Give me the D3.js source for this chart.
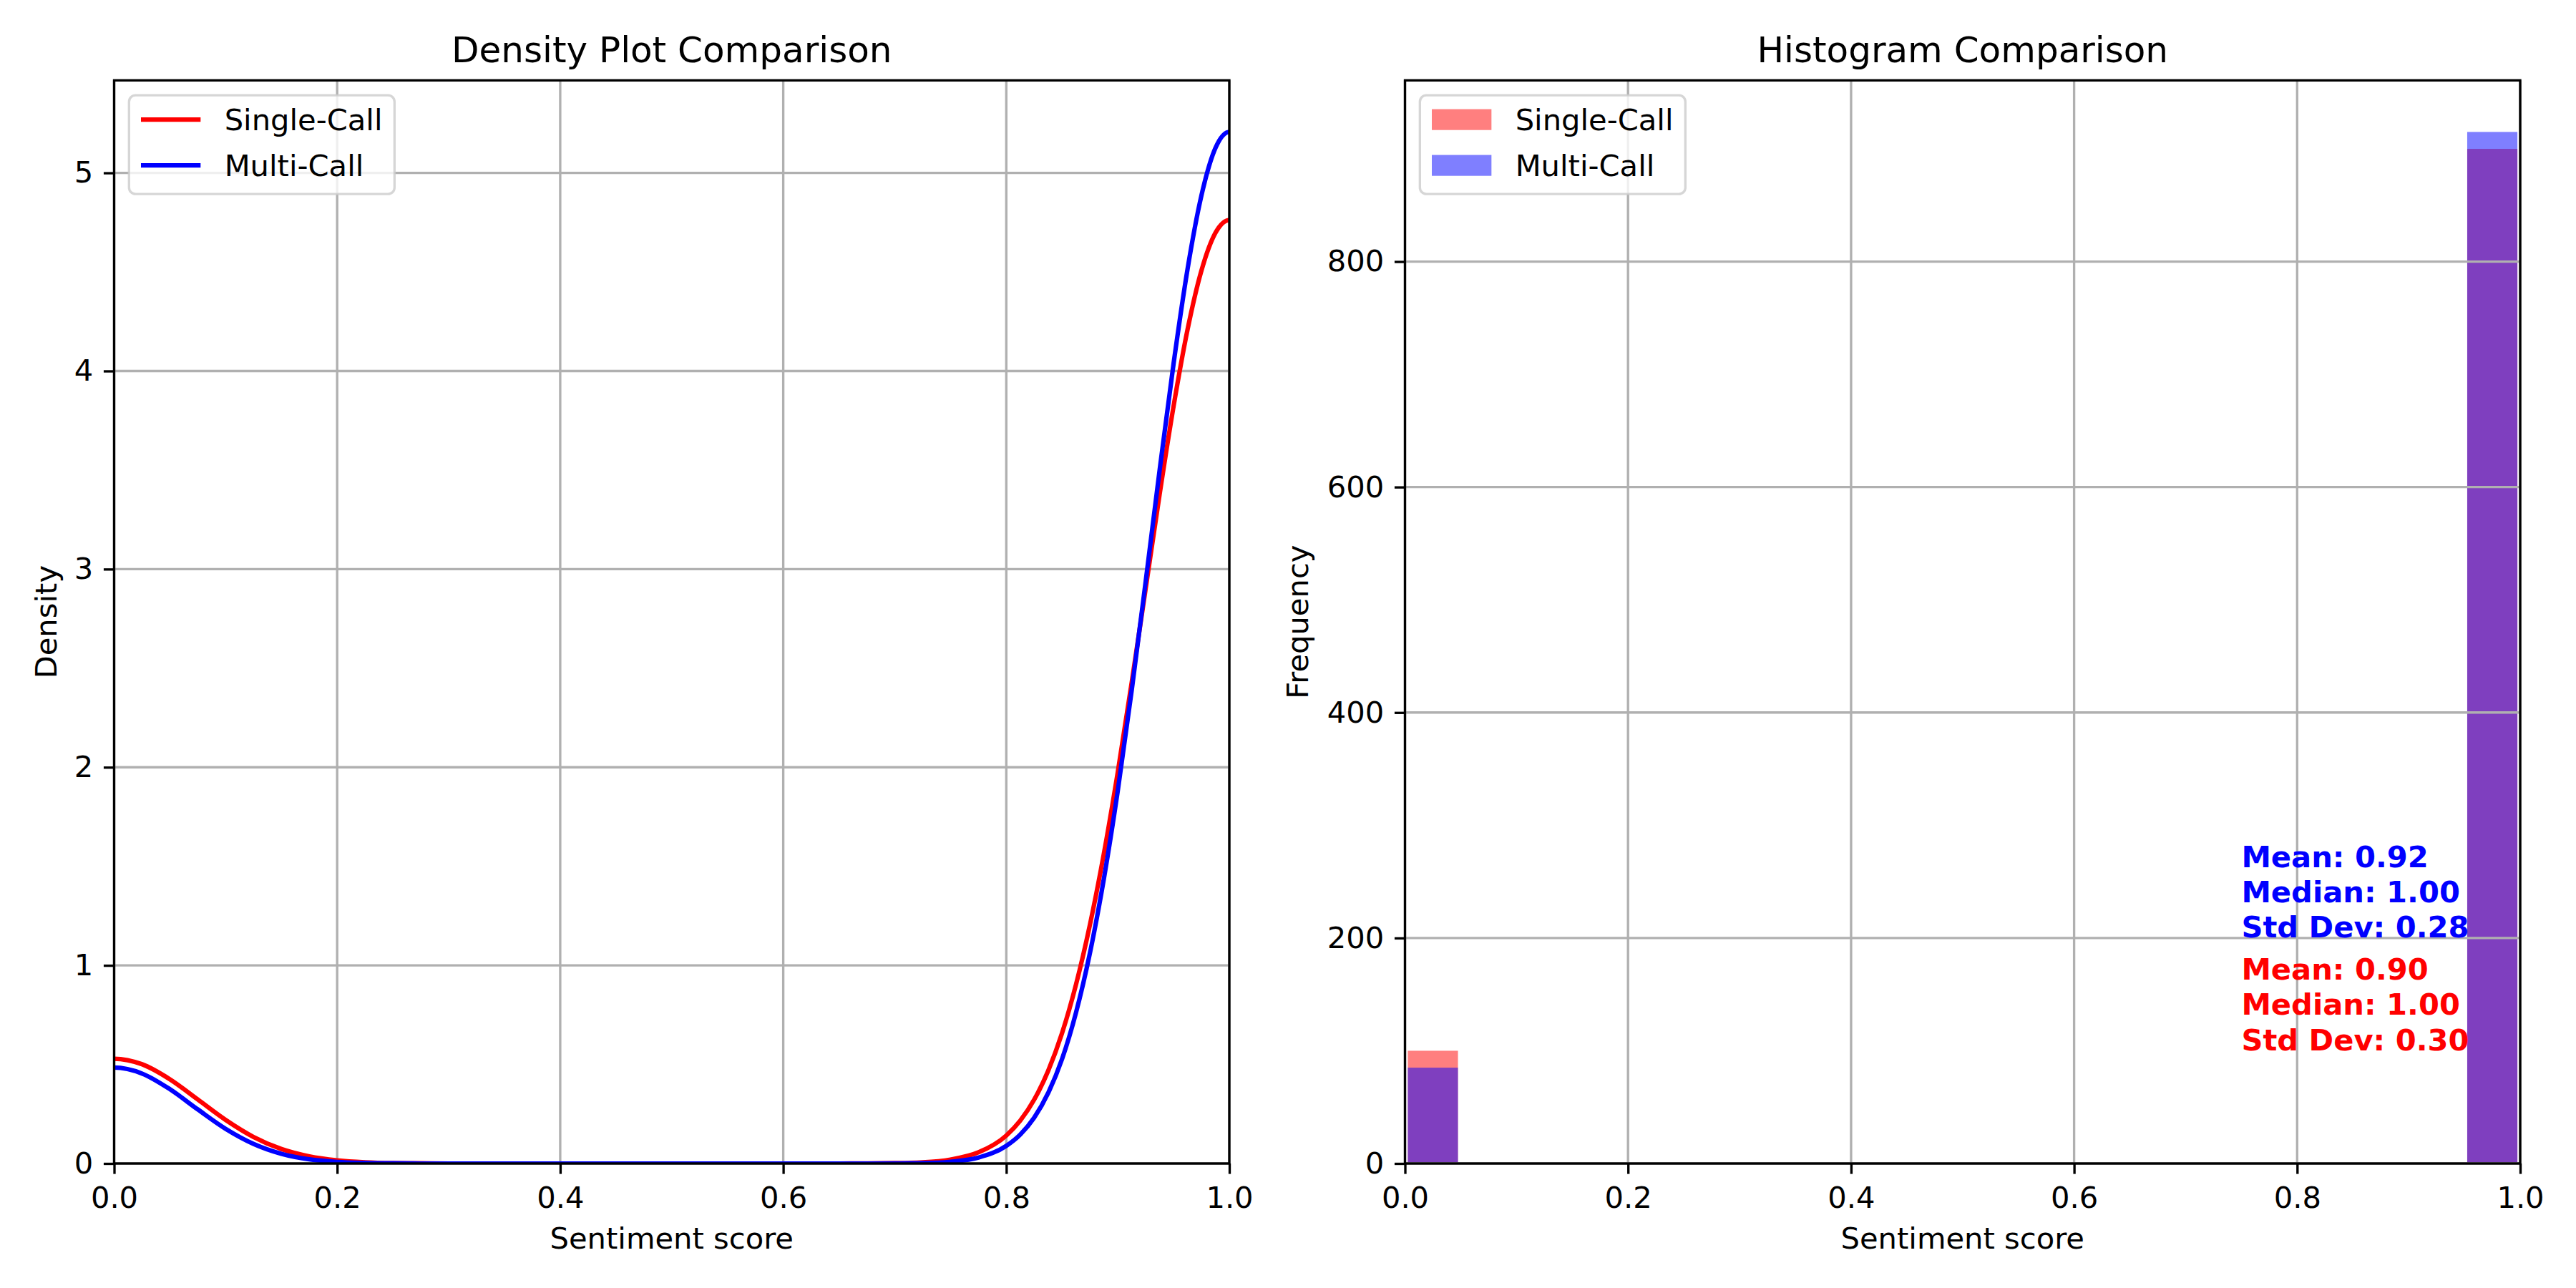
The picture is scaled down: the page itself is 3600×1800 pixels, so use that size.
<!DOCTYPE html>
<html>
<head>
<meta charset="utf-8">
<script src="https://cdn.jsdelivr.net/npm/d3@7"></script>
<style>
  body { margin: 0; background: #fff; }
  text { font-family: "DejaVu Sans", sans-serif; fill: #000; }
</style>
</head>
<body>
<svg id="chart" width="3600" height="1800"></svg>
<script>
// ---- data ----
const seriesNames = ["Single-Call", "Multi-Call"];
const seriesColors = ["red", "blue"];

// density curves, sampled along x (a little past both ends, the plot clips at 0..1)
const kdeX = [-0.05, -0.025, 0, 0.025, 0.05, 0.075, 0.1, 0.125, 0.15, 0.175, 0.2, 0.225, 0.25, 0.275, 0.3,
  0.325, 0.35, 0.375, 0.4, 0.425, 0.45, 0.475, 0.5, 0.525, 0.55, 0.575, 0.6, 0.625, 0.65, 0.675, 0.7,
  0.725, 0.75, 0.775, 0.8, 0.8125, 0.825, 0.8375, 0.85, 0.8625, 0.875, 0.8875, 0.9, 0.9125, 0.925,
  0.9375, 0.95, 0.9625, 0.975, 0.9875, 1, 1.0125, 1.025];
const singleDensity = [0.425, 0.501, 0.529, 0.501, 0.425, 0.323, 0.220, 0.134, 0.073, 0.036, 0.016, 0.006, 0.002, 0.001, 0,
  0, 0, 0, 0, 0, 0, 0, 0, 0, 0, 0, 0, 0, 0, 0.0005, 0.002,
  0.006, 0.020, 0.056, 0.141, 0.216, 0.322, 0.467, 0.658, 0.903, 1.205, 1.564, 1.976, 2.429, 2.903,
  3.378, 3.822, 4.208, 4.507, 4.697, 4.762, 4.697, 4.507];
const multiDensity = [0.375, 0.454, 0.484, 0.454, 0.375, 0.273, 0.175, 0.099, 0.049, 0.021, 0.008, 0.003, 0.001, 0, 0,
  0, 0, 0, 0, 0, 0, 0, 0, 0, 0, 0, 0, 0, 0, 0, 0.0005,
  0.002, 0.009, 0.030, 0.089, 0.146, 0.231, 0.355, 0.527, 0.761, 1.062, 1.437, 1.882, 2.390, 2.938,
  3.499, 4.037, 4.513, 4.886, 5.125, 5.207, 5.125, 4.886];

// histogram, 20 bins of width 0.05 over 0..1
const binStarts = [0, 0.05, 0.1, 0.15, 0.2, 0.25, 0.3, 0.35, 0.4, 0.45, 0.5, 0.55, 0.6, 0.65, 0.7, 0.75, 0.8, 0.85, 0.9, 0.95];
const singleCounts = [100, 0, 0, 0, 0, 0, 0, 0, 0, 0, 0, 0, 0, 0, 0, 0, 0, 0, 0, 900];
const multiCounts = [85, 0, 0, 0, 0, 0, 0, 0, 0, 0, 0, 0, 0, 0, 0, 0, 0, 0, 0, 915];

const multiStats = ["Mean: 0.92", "Median: 1.00", "Std Dev: 0.28"];
const singleStats = ["Mean: 0.90", "Median: 1.00", "Std Dev: 0.30"];

const xTicks = [0, 0.2, 0.4, 0.6, 0.8, 1.0];
const densityTicks = [0, 1, 2, 3, 4, 5];
const freqTicks = [0, 200, 400, 600, 800];

// ---- layout (300 dpi matplotlib-ish sizes) ----
const pt = 300 / 72;
const fs = 10 * pt;          // 41.67px
const lw = 0.8 * pt;         // spine / grid width
const tickLen = 3.5 * pt;
const plotTop = 112.3, plotBottom = 1626;

const svg = d3.select('#chart');
svg.append('rect').attr('width', 3600).attr('height', 1800).attr('fill', '#fff');

function makePanel(left, right, yMax, yTicks, yFmt, title, ylabel, ylabelX, clipId) {
    const x = d3.scaleLinear().domain([0, 1]).range([left, right]);
    const y = d3.scaleLinear().domain([0, yMax]).range([plotBottom, plotTop]);
    const g = svg.append('g');

    svg.append('clipPath').attr('id', clipId)
        .append('rect').attr('x', left).attr('y', plotTop)
        .attr('width', right - left).attr('height', plotBottom - plotTop);

    const layers = {
        below: g.append('g'),
        grid: g.append('g'),
        above: g.append('g').attr('clip-path', 'url(#' + clipId + ')'),
        frame: g.append('g')
    };

    // grid
    layers.grid.selectAll('line.gx').data(xTicks).enter().append('line')
        .attr('x1', d => x(d)).attr('x2', d => x(d))
        .attr('y1', plotTop).attr('y2', plotBottom)
        .attr('stroke', '#b0b0b0').attr('stroke-width', lw);
    layers.grid.selectAll('line.gy').data(yTicks).enter().append('line')
        .attr('x1', left).attr('x2', right)
        .attr('y1', d => y(d)).attr('y2', d => y(d))
        .attr('stroke', '#b0b0b0').attr('stroke-width', lw);

    // axes
    const xAxis = layers.frame.append('g').attr('transform', 'translate(0,' + plotBottom + ')')
        .call(d3.axisBottom(x).tickValues(xTicks).tickFormat(d3.format('.1f'))
            .tickSizeInner(tickLen).tickSizeOuter(0).tickPadding(tickLen + 3));
    const yAxis = layers.frame.append('g').attr('transform', 'translate(' + left + ',0)')
        .call(d3.axisLeft(y).tickValues(yTicks).tickFormat(yFmt)
            .tickSizeInner(tickLen).tickSizeOuter(0).tickPadding(tickLen));
    [xAxis, yAxis].forEach(a => {
        a.select('.domain').remove();
        a.selectAll('line').attr('stroke', '#000').attr('stroke-width', lw);
        a.selectAll('text').attr('font-size', fs).attr('font-family', '"DejaVu Sans", sans-serif').attr('fill', '#000');
    });

    layers.frame.append('rect')
        .attr('x', left).attr('y', plotTop).attr('width', right - left).attr('height', plotBottom - plotTop)
        .attr('fill', 'none').attr('stroke', '#000').attr('stroke-width', lw);

    // title + labels
    layers.frame.append('text').attr('x', (left + right) / 2).attr('y', 87)
        .attr('text-anchor', 'middle').attr('font-size', 12 * pt).text(title);
    layers.frame.append('text').attr('x', (left + right) / 2).attr('y', 1745)
        .attr('text-anchor', 'middle').attr('font-size', fs).text('Sentiment score');
    layers.frame.append('text')
        .attr('transform', 'translate(' + ylabelX + ',' + ((plotTop + plotBottom) / 2) + ') rotate(-90)')
        .attr('text-anchor', 'middle').attr('font-size', fs).text(ylabel);

    return { x, y, layers, left };
}

function drawLegend(panel, kind) {
    const lg = panel.layers.frame.append('g')
        .attr('transform', 'translate(' + (panel.left + 0.5 * fs) + ',' + (plotTop + 0.5 * fs) + ')');
    lg.append('rect').attr('width', 371).attr('height', 138).attr('rx', 9)
        .attr('fill', '#fff').attr('fill-opacity', 0.8)
        .attr('stroke', '#cccccc').attr('stroke-opacity', 0.8).attr('stroke-width', lw);
    const rows = lg.selectAll('g.row').data(seriesNames).enter().append('g')
        .attr('transform', (d, i) => 'translate(0,' + (34 + i * 64) + ')');
    if (kind === 'line') {
        rows.append('line').attr('x1', 0.4 * fs).attr('x2', 2.4 * fs)
            .attr('stroke', (d, i) => seriesColors[i]).attr('stroke-width', 1.5 * pt);
    } else {
        rows.append('rect').attr('x', 0.4 * fs).attr('y', -0.35 * fs)
            .attr('width', 2 * fs).attr('height', 0.7 * fs)
            .attr('fill', (d, i) => seriesColors[i]).attr('fill-opacity', 0.5);
    }
    rows.append('text').attr('x', 3.2 * fs).attr('y', 15).attr('font-size', fs).text(d => d);
}

// ---- left: density ----
const dens = makePanel(159.5, 1718, 5.467, densityTicks, d3.format('d'),
    'Density Plot Comparison', 'Density', 79, 'clipL');

const line = d3.line().x(d => dens.x(d[0])).y(d => dens.y(d[1])).curve(d3.curveMonotoneX);
[singleDensity, multiDensity].forEach((vals, i) => {
    dens.layers.above.append('path')
        .datum(kdeX.map((xv, j) => [xv, vals[j]]))
        .attr('d', line)
        .attr('fill', 'none')
        .attr('stroke', seriesColors[i])
        .attr('stroke-width', 1.5 * pt)
        .attr('stroke-linejoin', 'round');
});
drawLegend(dens, 'line');

// ---- right: histogram ----
const hist = makePanel(1963.5, 3522, 960.75, freqTicks, d3.format('d'),
    'Histogram Comparison', 'Frequency', 1828, 'clipR');

const binW = 0.05, barFrac = 0.9;
[singleCounts, multiCounts].forEach((counts, i) => {
    hist.layers.below.selectAll('rect.s' + i)
        .data(binStarts.map((b, j) => ({ b, c: counts[j] })).filter(d => d.c > 0))
        .enter().append('rect')
        .attr('x', d => hist.x(d.b + binW * (1 - barFrac) / 2))
        .attr('width', d => hist.x(d.b + binW * barFrac) - hist.x(d.b))
        .attr('y', d => hist.y(d.c))
        .attr('height', d => hist.y(0) - hist.y(d.c))
        .attr('fill', seriesColors[i])
        .attr('fill-opacity', 0.5);
});

// stats text, blue block above red block
const statX = hist.x(0.75);
[[multiStats, 'blue', hist.y(263)], [singleStats, 'red', hist.y(163)]].forEach(([lines, col, y0]) => {
    hist.layers.frame.selectAll(null).data(lines).enter().append('text')
        .attr('x', statX)
        .attr('y', (d, i) => y0 + i * 49.2)
        .attr('font-size', fs).attr('font-weight', 'bold')
        .style('fill', col)
        .text(d => d);
});
drawLegend(hist, 'patch');
</script>
</body>
</html>
